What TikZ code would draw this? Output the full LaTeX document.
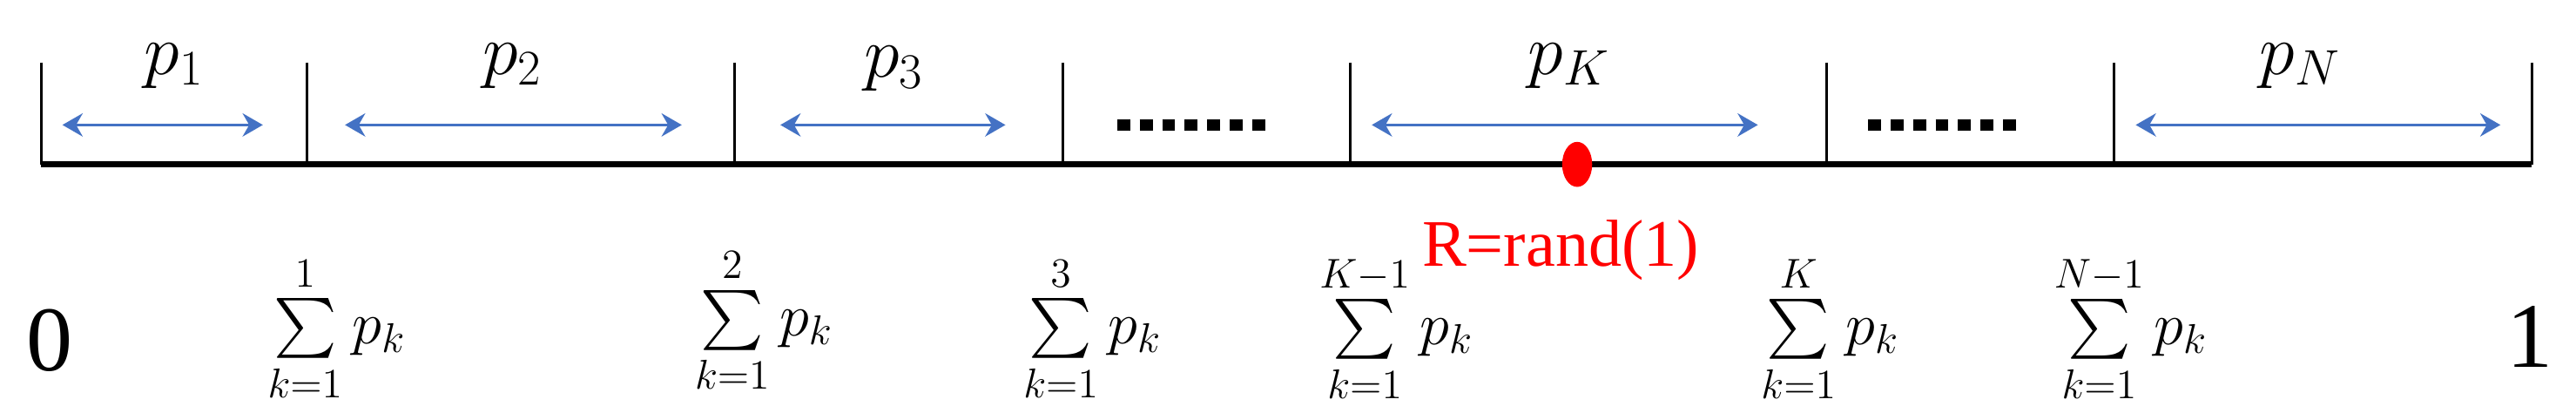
\documentclass[tikz,border=0pt]{standalone}
\usepackage{amsmath}
\usepackage{exscale}
\usepackage{fontspec}
\setmainfont{Liberation Serif}
\usetikzlibrary{arrows.meta}
\definecolor{myblue}{RGB}{68,114,196}
\begin{document}
\begin{tikzpicture}[x=0.02cm,y=0.02cm,
  divider/.style={line width=0.9pt},
  span/.style={myblue,line width=1.1pt,{Stealth[length=7pt,width=8pt]}-{Stealth[length=7pt,width=8pt]}},
  dots/.style={line width=4pt,dash pattern=on 4.5pt off 3.3pt},
  plab/.style={font=\fontsize{26}{30}\selectfont},
  slab/.style={font=\fontsize{22}{26}\selectfont,inner sep=0pt},
  endlab/.style={font=\fontsize{32}{36}\selectfont}]
\useasboundingbox (0,0) rectangle (1568,-251);
% dividers
\foreach \n/\x in {a/25,b/187,c/447,d/647,e/822,f/1112,g/1287,h/1541}{
  \coordinate (\n top) at (\x,-38);
  \coordinate (\n bot) at (\x,-100);
  \draw[divider] (\n top) -- (\n bot);
}
\draw[line width=2.3pt] (abot) -- (hbot);
% spans
\foreach \n/\l/\r in {1/38/160,2/210/415,3/475/612,K/835/1070,N/1300/1522}{
  \coordinate (l\n) at (\l,-76); \coordinate (r\n) at (\r,-76);
  \draw[span] (l\n) -- (r\n);
}
\coordinate (d1l) at (680,-76); \coordinate (d1r) at (771,-76);
\coordinate (d2l) at (1137,-76); \coordinate (d2r) at (1228,-76);
\draw[dots] (d1l) -- (d1r);
\draw[dots] (d2l) -- (d2r);
% labels
\node[plab] (t1) at (106,-40) {$p_1$};
\node[plab] (t2) at (312,-40) {$p_2$};
\node[plab] (t3) at (544,-42) {$p_3$};
\node[plab] (tK) at (955,-40) {$p_K$};
\node[plab] (tN) at (1400,-40) {$p_N$};
% red point
\node[circle,fill=red,inner sep=0pt,minimum width=13pt,minimum height=13pt,xscale=0.8,yscale=1.2] (R) at (960,-100) {};
\node[text=red,font=\fontsize{23}{28}\selectfont] (Rl) at (950,-152) {R=rand(1)};
% sums
\node[endlab] (zero) at (30,-207) {0};
\node[endlab] (one) at (1540,-205) {1};
\node[slab] (s1) at (205,-200) {$\sum\limits_{k=1}^{1} p_k$};
\node[slab] (s2) at (465,-195) {$\sum\limits_{k=1}^{2} p_k$};
\node[slab] (s3) at (665,-200) {$\sum\limits_{k=1}^{3} p_k$};
\node[slab] (s4) at (850,-200) {$\sum\limits_{k=1}^{K-1} p_k$};
\node[slab] (s5) at (1114,-200) {$\sum\limits_{k=1}^{K} p_k$};
\node[slab] (s6) at (1297,-200) {$\sum\limits_{k=1}^{N-1} p_k$};
\end{tikzpicture}
\end{document}
